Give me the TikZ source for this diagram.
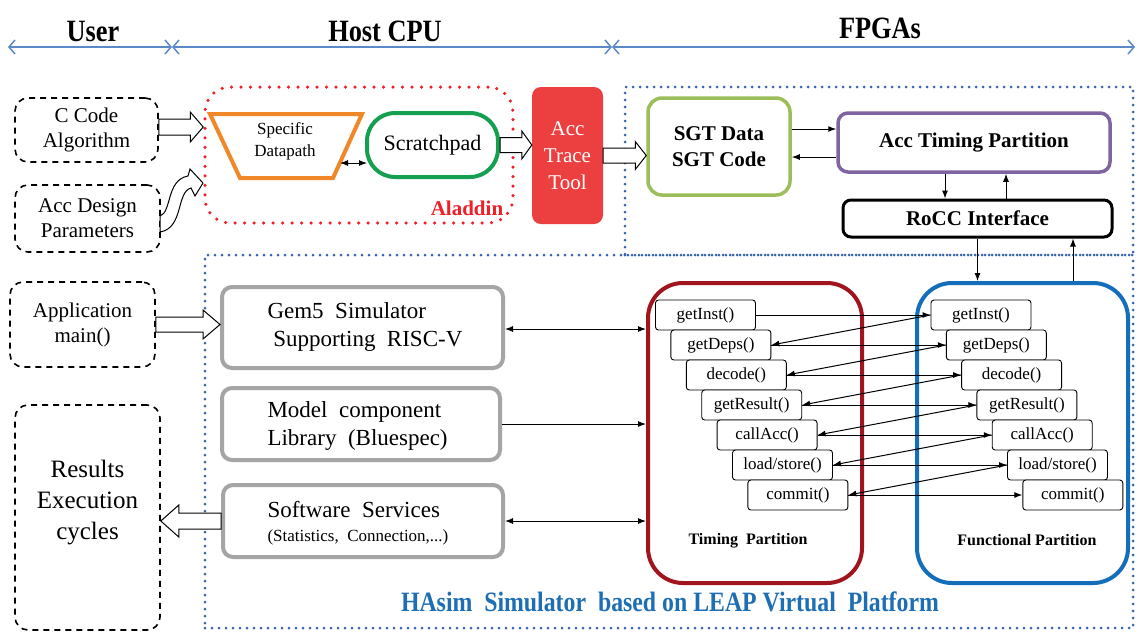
\documentclass[tikz,border=0pt]{standalone}
\usepackage{fontspec}
\setmainfont{Liberation Serif}
\newfontfamily\condfont{Liberation Serif}[FakeStretch=0.85]
\usetikzlibrary{arrows.meta,calc}
\definecolor{hdrblue}{RGB}{91,138,198}
\definecolor{dotred}{RGB}{240,30,40}
\definecolor{dotblue}{RGB}{55,100,170}
\definecolor{dporange}{RGB}{240,135,40}
\definecolor{spgreen}{RGB}{20,160,80}
\definecolor{attred}{RGB}{236,64,64}
\definecolor{sgtgreen}{RGB}{155,190,90}
\definecolor{accpurple}{RGB}{128,100,162}
\definecolor{tpred}{RGB}{160,20,30}
\definecolor{fpblue}{RGB}{20,110,185}
\definecolor{boxgray}{RGB}{165,165,165}
\definecolor{hasimblue}{RGB}{30,110,180}
\newcommand\fs[2]{\fontsize{#1}{#2}\selectfont}
% rightward block arrow: start, end, body half, head half, head length
\newcommand\rblk[5]{\draw[blk] let \p1=(#1), \p2=(#2) in
  (\x1,\y1+#3pt) -- (\x2-#5pt,\y1+#3pt) -- (\x2-#5pt,\y1+#4pt) -- (\x2,\y1)
  -- (\x2-#5pt,\y1-#4pt) -- (\x2-#5pt,\y1-#3pt) -- (\x1,\y1-#3pt) -- cycle;}
\newcommand\lblk[5]{\draw[blk] let \p1=(#1), \p2=(#2) in
  (\x1,\y1+#3pt) -- (\x2+#5pt,\y1+#3pt) -- (\x2+#5pt,\y1+#4pt) -- (\x2,\y1)
  -- (\x2+#5pt,\y1-#4pt) -- (\x2+#5pt,\y1-#3pt) -- (\x1,\y1-#3pt) -- cycle;}
\tikzset{
  dbox/.style={draw, line width=1.6pt, dash pattern=on 6pt off 5pt, rounded corners=13pt, align=center, inner sep=0pt},
  gbox/.style={draw=boxgray, line width=4pt, rounded corners=10pt, inner sep=0pt},
  itembox/.style={draw, line width=0.9pt, rounded corners=3pt, fill=white, minimum width=100pt, minimum height=30pt, inner sep=0pt, font=\fs{17}{20}},
  arr/.style={line width=1pt, -{Latex[length=8pt,width=6pt]}},
  darr/.style={line width=1pt, {Latex[length=8pt,width=6pt]}-{Latex[length=8pt,width=6pt]}},
  blk/.style={draw, line width=1pt, fill=white},
  hdr/.style={draw=hdrblue, line width=1.5pt, {Straight Barb[length=6pt,width=14pt]}-{Straight Barb[length=6pt,width=14pt]}},
  hdrtext/.style={font=\condfont\bfseries\fs{31}{34}},
  reddots/.style={draw=dotred, line width=3.5pt, dash pattern=on 0pt off 9.5pt, line cap=round, rounded corners=25pt, inner sep=0pt},
  bluedots/.style={draw=dotblue, line width=3pt, dash pattern=on 0pt off 7pt, line cap=round, inner sep=0pt},
}
\begin{document}
\begin{tikzpicture}[x=1pt,y=-1pt]
\useasboundingbox (0,0) rectangle (1138,641);
\fill[white] (0,0) rectangle (1138,641);

% header
\coordinate (h0) at (8,47);
\coordinate (h1) at (172,47);
\coordinate (h2) at (612,47);
\coordinate (h3) at (1135,47);
\draw[hdr] (h0) -- (h1);
\draw[hdr] (h1) -- (h2);
\draw[hdr] (h2) -- (h3);
\node[hdrtext] (huser) at (93,31) {User};
\node[hdrtext] (hhost) at (385,31) {Host CPU};
\node[hdrtext] (hfpga) at (880,28) {FPGAs};

% containers
\node[reddots, minimum width=308pt, minimum height=136pt] (aladdin) at (359,155) {};
\node[font=\bfseries\fs{21}{24}, text=dotred] (aladdinlbl) at (467,208) {Aladdin};
\node[bluedots, minimum width=508pt, minimum height=168pt] (fpgau) at (879,171) {};
\node[bluedots, minimum width=928pt, minimum height=373pt] (fpgal) at (669,441.5) {};

% user boxes
\node[dbox, minimum width=143pt, minimum height=64pt, font=\fs{21}{25}] (ccode) at (86.5,130) {C Code\\Algorithm};
\node[dbox, minimum width=145pt, minimum height=67pt, font=\fs{21}{25}] (accd) at (87.5,218.5) {Acc Design\\Parameters};
\node[dbox, minimum width=145pt, minimum height=85pt, font=\fs{21}{25}] (app) at (82.5,324.5) {Application\\main()};
\node[dbox, minimum width=145pt, minimum height=225pt] (res) at (87.5,517.5) {};
\node[align=center, font=\fs{25}{31}] (restext) at (87.5,503) {Results\\Execution\\cycles};

% Aladdin content
\coordinate (dp1) at (210,114);
\coordinate (dp2) at (362,114);
\coordinate (dp3) at (333,178);
\coordinate (dp4) at (240,178);
\draw[draw=dporange, line width=4pt, line join=miter] (dp1) -- (dp2) -- (dp3) -- (dp4) -- cycle;
\node[align=center, font=\fs{17}{22}] (dp) at (285,141) {Specific\\Datapath};
\coordinate (dpR) at (340,163);
\node[draw=spgreen, line width=4pt, rounded corners=28pt, minimum width=131pt, minimum height=64pt, font=\fs{22}{26}] (sp) at (432.5,145) {Scratchpad};
\draw[darr] (dpR) -- ($(sp.west)+(2,18)$);

% acc trace tool
\node[fill=attred, rounded corners=9pt, minimum width=71pt, minimum height=137pt, align=center, text=white, font=\fs{21}{27}] (att) at (567.5,155.5) {Acc\\Trace\\Tool};

% FPGA upper
\node[draw=sgtgreen, line width=3.5pt, rounded corners=14pt, minimum width=142pt, minimum height=97pt, align=center, font=\bfseries\fs{21}{26}] (sgt) at (719,146.5) {SGT Data\\SGT Code};
\node[draw=accpurple, line width=3.5pt, rounded corners=10pt, minimum width=272pt, minimum height=59pt, font=\bfseries\fs{21}{24}] (acct) at (974,142.5) {Acc Timing Partition};
\node[draw, line width=3pt, rounded corners=8pt, minimum width=269pt, minimum height=37pt, font=\bfseries\fs{21}{24}] (rocc) at (977.5,218.5) {RoCC Interface};

\coordinate (s1) at ($(sgt.east)+(0,-17.5)$);
\coordinate (s2) at ($(sgt.east)+(0,10.5)$);
\draw[arr] (s1) -- (s1 -| acct.west);
\draw[arr] (s2 -| acct.west) -- (s2);
\coordinate (a1) at ($(acct.south)+(-29,0)$);
\coordinate (a2) at ($(acct.south)+(32,0)$);
\draw[arr] (a1) -- (a1 |- rocc.north);
\draw[arr] (a2 |- rocc.north) -- (a2);

% gray boxes
\node[gbox, minimum width=281pt, minimum height=81pt] (gem5) at (362.5,327.5) {};
\node[anchor=west, align=left, font=\fs{23}{28}] (gem5t) at (264,327) {Gem5\ \ Simulator\\\ Supporting\ \ RISC-V};
\node[gbox, minimum width=278pt, minimum height=72pt] (model) at (361,424) {};
\node[anchor=west, align=left, font=\fs{23}{28}] (modelt) at (264,426) {Model\ \ component\\Library\ \ (Bluespec)};
\node[gbox, minimum width=280pt, minimum height=72pt] (sw) at (363,521) {};
\node[anchor=west, align=left, font=\fs{23}{27}] (swt) at (264,510) {Software\ \ Services};
\node[anchor=west, font=\fs{17}{20}] (swt2) at (264,537) {(Statistics,\ \ Connection,...)};

% partitions
\node[draw=tpred, line width=4pt, rounded corners=35pt, minimum width=214pt, minimum height=300pt] (tp) at (755,433) {};
\node[draw=fpblue, line width=4pt, rounded corners=35pt, minimum width=211pt, minimum height=300pt] (fp) at (1022.5,433) {};
\node[font=\bfseries\fs{16}{19}] (tplbl) at (748,541) {Timing\ \ Partition};
\node[font=\bfseries\fs{16}{19}] (fplbl) at (1027,540) {Functional Partition};

% items
\foreach \n [count=\i from 0] in {getInst(),getDeps(),decode(),getResult(),callAcc(),load/store(),commit()} {
  \node[itembox] (t\i) at ({705.5+15.4*\i},{315+30*\i}) {\n};
  \node[itembox] (f\i) at ({981+15.3*\i},{315+30*\i}) {\n};
}
\foreach \i in {0,...,6} { \draw[arr] (t\i.east) -- (f\i.west); }
\foreach \i [evaluate=\i as \j using int(\i+1)] in {0,...,5} { \draw[arr] (f\i.west) -- (t\j.east); }

% rocc <-> functional
\coordinate (r1) at (rocc.south);
\draw[arr] (r1) -- (r1 |- fp.north);
\coordinate (r2) at ($(fp.north)+(50.5,0)$);
\draw[arr] (r2) -- (r2 |- rocc.south);

% gray boxes <-> timing
\draw[darr] ($(gem5.east)+(0,1.5)$) -- ($(gem5.east -| tp.west)+(0,1.5)$);
\draw[arr] (model.east) -- (model.east -| tp.west);
\draw[darr] (sw.east) -- (sw.east -| tp.west);

% block arrows
\rblk{$(ccode.east)+(0,-3)$}{aladdin.west}{8}{15}{13}
\rblk{sp.east}{att.west}{7.5}{14}{10}
\rblk{att.east}{sgt.west}{7.5}{14}{11}
\rblk{app.east}{gem5.west}{7.5}{14.5}{17}
\lblk{sw.west}{res.east}{8}{16}{18}
\draw[blk] (160,216) .. controls (172,212) and (166,180) .. (188,176) -- (190,169) -- (203,183) -- (195,196) -- (191,188) .. controls (176,192) and (184,228) .. (160,232) -- cycle;

% bottom label
\node[font=\condfont\bfseries\fs{28}{32}, text=hasimblue] (hasim) at (670,602) {HAsim\ \ Simulator\ \ based on LEAP Virtual\ \ Platform};
\end{tikzpicture}
\end{document}
